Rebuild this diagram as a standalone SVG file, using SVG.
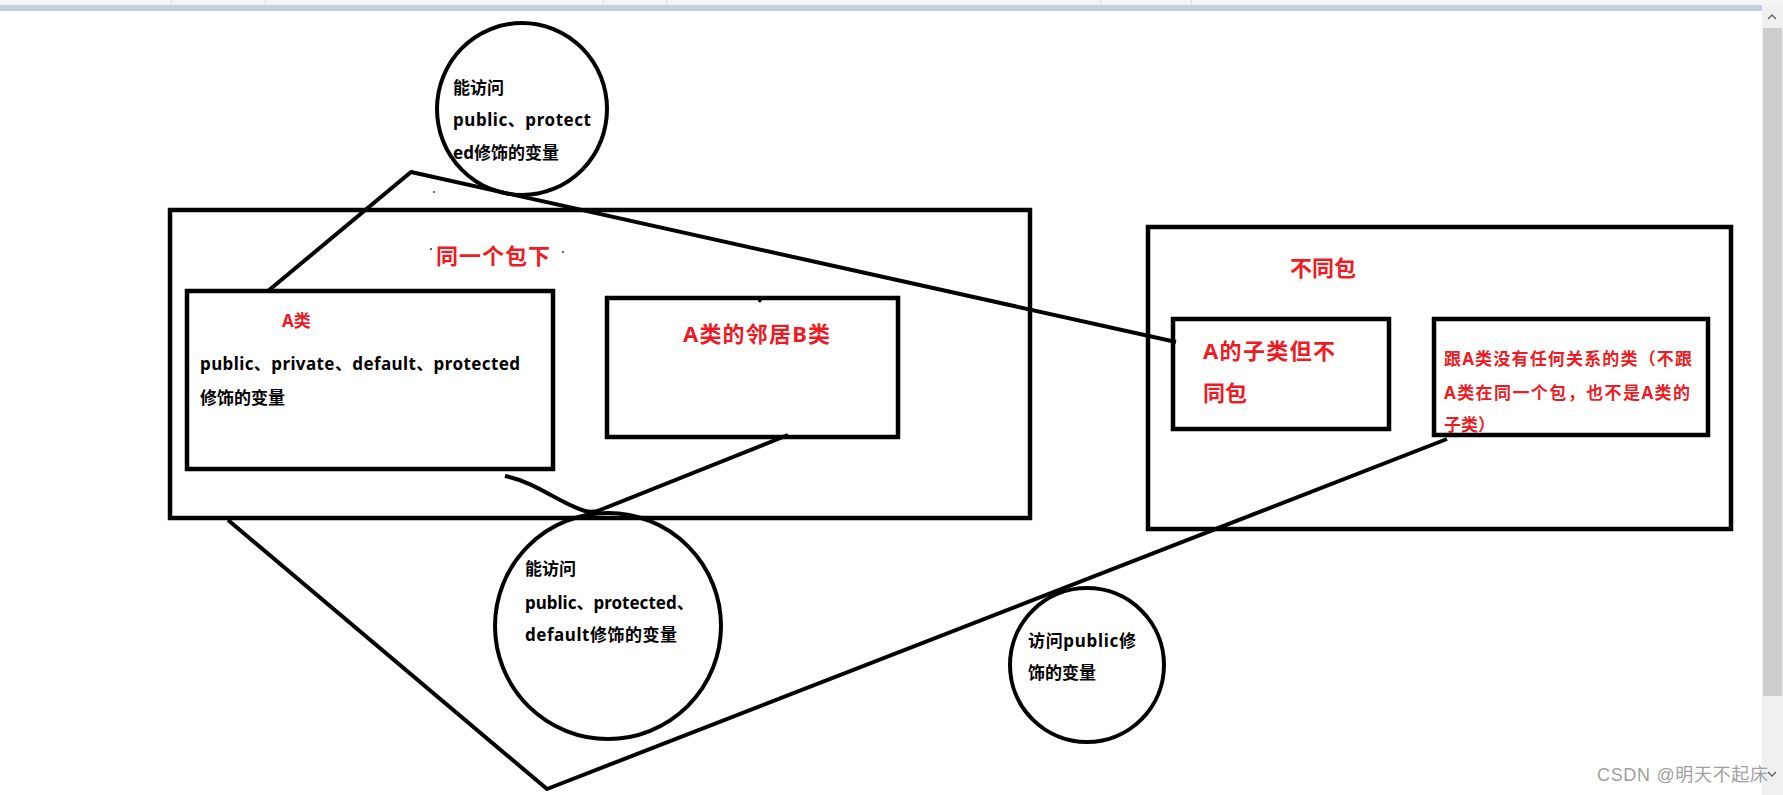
<svg xmlns="http://www.w3.org/2000/svg" width="1783" height="795" viewBox="0 0 1783 795">
<style>
.box{fill:none;stroke:#000;stroke-width:4.5}
.ring{fill:none;stroke:#000;stroke-width:4}
.line{fill:none;stroke:#000;stroke-width:4;stroke-linejoin:round}
.t{font-family:"Noto Sans","Noto Sans CJK SC",sans-serif;font-weight:bold;font-size:17px;fill:#000}
.r{fill:#ed1c24}
.big{font-size:22px}
.wm{font-family:"Liberation Sans","Noto Sans CJK SC",sans-serif;font-size:18px;fill:#a0a0a0}
</style>
<rect width="1783" height="795" fill="#fff"/>
<g id="chrome">
<rect x="0" y="0" width="1783" height="6" fill="#f3f4f6"/>
<rect x="0" y="5" width="1762" height="6" fill="#c6cfdf"/>
<g fill="#dfe1e5"><rect x="171" y="0" width="1" height="5"/><rect x="265" y="0" width="1" height="5"/><rect x="603" y="0" width="1" height="5"/><rect x="666" y="0" width="1" height="5"/><rect x="1100" y="0" width="1" height="5"/><rect x="1191" y="0" width="1" height="5"/></g>
<rect x="1762" y="6" width="21" height="789" fill="#f0f0f0"/>
<rect x="1763" y="28" width="19" height="668" fill="#cdcdcd"/>
<polyline points="1768,19 1772,15 1776,19" fill="none" stroke="#606060" stroke-width="1.3"/>
<polyline points="1768,772 1772,776 1776,772" fill="none" stroke="#606060" stroke-width="1.3"/>
</g>
<g id="connectors">
<polyline class="line" points="268,291 411,172 1176,342"/>
<path class="line" d="M505,476 C538,483 558,503 585,511 Q592,513 600,510 L788,435"/>
<polyline class="line" points="228,520 547,789 1447,439"/>
<line x1="759" y1="302" x2="761" y2="299" stroke="#000" stroke-width="3"/>
</g>
<g id="same-package">
<rect class="box" x="170" y="210" width="860" height="308"/>
<text class="t r big" x="436" y="264" textLength="114">同一个包下</text>
</g>
<g id="class-a">
<rect class="box" x="187" y="291" width="366" height="178"/>
<text class="t r" x="282" y="327">A类</text>
<text class="t" x="200" y="370" textLength="320">public、private、default、protected</text>
<text class="t" x="200" y="404">修饰的变量</text>
</g>
<g id="class-b">
<rect class="box" x="607" y="298" width="291" height="139"/>
<text class="t r big" x="683" y="342" textLength="147">A类的邻居B类</text>
</g>
<g id="diff-package">
<rect class="box" x="1148" y="227" width="583" height="302"/>
<text class="t r big" x="1290" y="276">不同包</text>
</g>
<g id="class-sub">
<rect class="box" x="1173" y="319" width="216" height="110"/>
<text class="t r big" x="1203" y="359" textLength="132">A的子类但不</text>
<text class="t r big" x="1203" y="401">同包</text>
</g>
<g id="class-other">
<rect class="box" x="1434" y="319" width="274" height="116"/>
<text class="t r" x="1444" y="365" textLength="248">跟A类没有任何关系的类（不跟</text>
<text class="t r" x="1444" y="399" textLength="246">A类在同一个包，也不是A类的</text>
<text class="t r" x="1444" y="431">子类）</text>
</g>
<g id="circle-1">
<ellipse class="ring" cx="522" cy="109" rx="85" ry="86"/>
<text class="t" x="453" y="94">能访问</text>
<text class="t" x="453" y="126" textLength="138">public、protect</text>
<text class="t" x="453" y="159">ed修饰的变量</text>
</g>
<g id="circle-2">
<ellipse class="ring" cx="608" cy="626" rx="113" ry="113"/>
<text class="t" x="525" y="575">能访问</text>
<text class="t" x="525" y="609">public、protected、</text>
<text class="t" x="525" y="641" textLength="152">default修饰的变量</text>
</g>
<g id="circle-3">
<ellipse class="ring" cx="1087" cy="665" rx="77" ry="77"/>
<text class="t" x="1028" y="647" textLength="108">访问public修</text>
<text class="t" x="1028" y="679">饰的变量</text>
</g>
<g id="specks" fill="#333">
<circle cx="431" cy="249" r="1"/><circle cx="563" cy="252" r="1"/><circle cx="434" cy="192" r="1"/>
</g>
<text class="wm" x="1597" y="781" textLength="171">CSDN @明天不起床</text>
</svg>
